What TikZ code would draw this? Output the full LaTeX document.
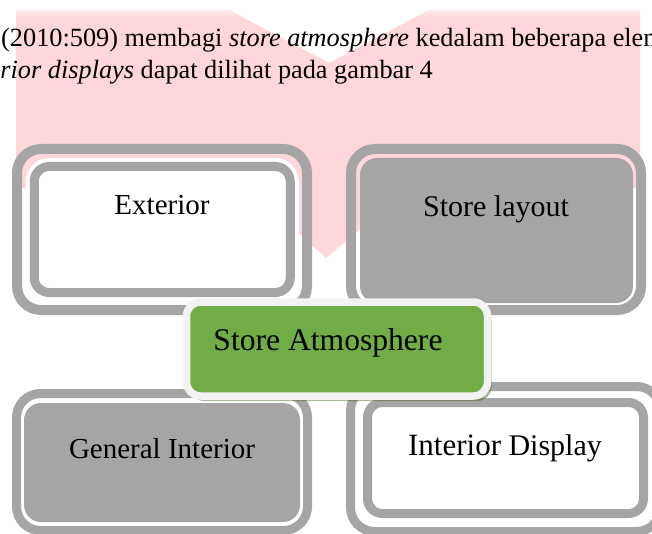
\documentclass[tikz,border=0pt]{standalone}
\usepackage{fontspec}
\setmainfont{Liberation Serif}
\usetikzlibrary{shadows}
\definecolor{ringgray}{HTML}{A5A5A5}
\definecolor{pinkbg}{HTML}{FFD6D9}
\definecolor{leafgreen}{HTML}{70AD47}
\definecolor{rimgray}{HTML}{F2F2F2}
\definecolor{shadowgreen}{HTML}{3F5F2A}
\begin{document}
\begin{tikzpicture}[x=1pt,y=-1pt,
  outerring/.style={draw=ringgray, line width=10pt, rounded corners=24pt, inner sep=0pt},
  thinring/.style={draw=ringgray, line width=9pt, rounded corners=24pt, inner sep=0pt},
  innerring/.style={draw=ringgray, line width=9pt, rounded corners=15pt, fill=white,
     preaction={draw=white, line width=17pt}, inner sep=0pt},
  grayfill/.style={fill=ringgray, rounded corners=17pt, inner sep=0pt},
  centerbox/.style={draw=rimgray, line width=7.5pt, fill=leafgreen, rounded corners=14pt, inner sep=0pt,
     drop shadow={shadow xshift=4pt, shadow yshift=-5pt, fill=shadowgreen, opacity=0.45}},
  boxtext/.style={anchor=base, inner sep=0pt, font=\fontsize{29}{32}\selectfont},
  toptext/.style={inner sep=0pt, font=\fontsize{26.3}{30}\selectfont}]
\useasboundingbox (0,0) rectangle (652,534);
\clip (0,0) rectangle (652,534);
% pink chevron background
\fill[pinkbg] (16,10) -- (229,10) -- (329,63) -- (429,10) -- (640,10) -- (640,187)
  -- (360,229) -- (326,258) -- (296,231) -- (16,187) -- cycle;
\begin{scope}
  \clip (16,10) -- (229,10) -- (329,63) -- (429,10) -- (640,10) -- (640,187)
  -- (360,229) -- (326,258) -- (296,231) -- (16,187) -- cycle;
  \shade[top color=pinkbg!35, bottom color=pinkbg] (16,9) rectangle (640,17);
\end{scope}
% text lines
\node[toptext, anchor=base west] (line1) at (1,47)
  {(2010:509) membagi \textit{store atmosphere} kedalam beberapa elemen};
\node[toptext, anchor=base east] (line2) at (433,79)
  {\textit{interior displays} dapat dilihat pada gambar 4};
% Exterior (top left)
\node[outerring, minimum width=290pt, minimum height=161pt] (extout) at (162,229.5) {};
\node[innerring, minimum width=256pt, minimum height=126pt] (extin) at (162.25,229.5) {};
\node[boxtext] (ext) at (162,215) {Exterior};
% Store layout (top right)
\node[outerring, minimum width=290pt, minimum height=161pt] (layout out) at (496,229.5) {};
\node[grayfill, minimum width=273pt, minimum height=145pt] (layoutin) at (496.5,230.5) {};
\node[boxtext, font=\fontsize{30}{32}\selectfont] (layout) at (496,217) {Store layout};
% General Interior (bottom left)
\node[thinring, minimum width=291pt, minimum height=137pt] (genout) at (162,462) {};
\node[grayfill, minimum width=276pt, minimum height=119pt] (genin) at (162,462.5) {};
\node[boxtext] (gen) at (162,458) {General Interior};
% Interior Display (bottom right)
\node[thinring, minimum width=310pt, minimum height=145pt] (dispout) at (505.5,459) {};
\node[innerring, minimum width=276pt, minimum height=111pt] (dispin) at (505.5,458) {};
\node[boxtext, font=\fontsize{30}{32}\selectfont] (disp) at (505,455)
  {{\fontsize{31}{32}\selectfont Interior} Display};
% Store Atmosphere (centre)
\node[centerbox, minimum width=301pt, minimum height=94pt] (atmbox) at (337,349) {};
\node[boxtext, font=\fontsize{31.6}{34}\selectfont] (atm) at (328,350) {Store Atmosphere};
\end{tikzpicture}
\end{document}
